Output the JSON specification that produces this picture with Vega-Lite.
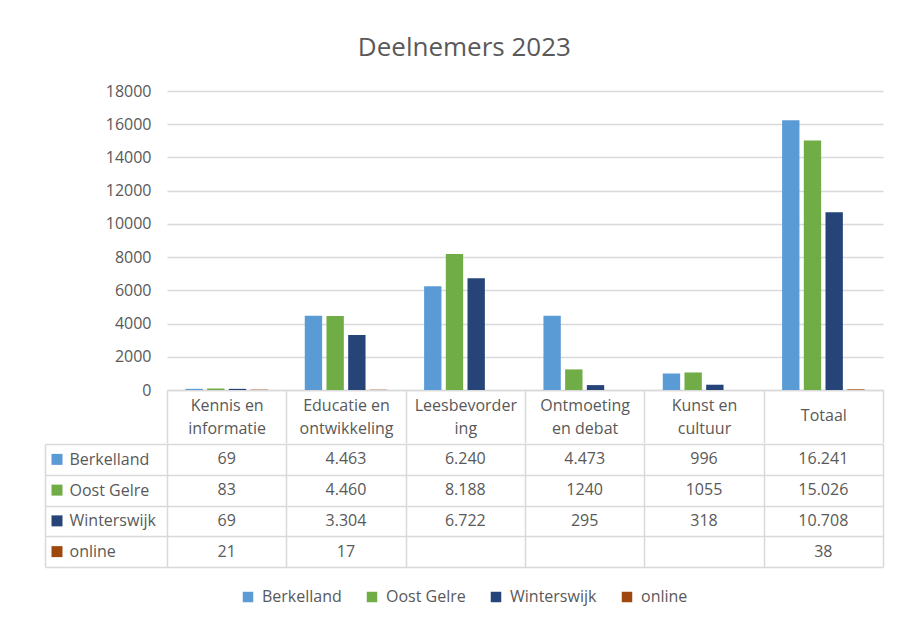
{
  "$schema": "https://vega.github.io/schema/vega-lite/v6.json",
  "background": "white",
  "padding": {"left": 45, "top": 35, "right": 10, "bottom": 10},
  "title": {"text": "Deelnemers 2023", "fontSize": 26, "font": "Open Sans", "fontWeight": "normal", "color": "#595959", "anchor": "middle", "offset": 22},
  "datasets": {
    "deelnemers": [
      {"categorie": "Kennis en informatie", "gemeente": "Berkelland", "aantal": 69, "label": "69"},
      {"categorie": "Educatie en ontwikkeling", "gemeente": "Berkelland", "aantal": 4463, "label": "4.463"},
      {"categorie": "Leesbevordering", "gemeente": "Berkelland", "aantal": 6240, "label": "6.240"},
      {"categorie": "Ontmoeting en debat", "gemeente": "Berkelland", "aantal": 4473, "label": "4.473"},
      {"categorie": "Kunst en cultuur", "gemeente": "Berkelland", "aantal": 996, "label": "996"},
      {"categorie": "Totaal", "gemeente": "Berkelland", "aantal": 16241, "label": "16.241"},
      {"categorie": "Kennis en informatie", "gemeente": "Oost Gelre", "aantal": 83, "label": "83"},
      {"categorie": "Educatie en ontwikkeling", "gemeente": "Oost Gelre", "aantal": 4460, "label": "4.460"},
      {"categorie": "Leesbevordering", "gemeente": "Oost Gelre", "aantal": 8188, "label": "8.188"},
      {"categorie": "Ontmoeting en debat", "gemeente": "Oost Gelre", "aantal": 1240, "label": "1240"},
      {"categorie": "Kunst en cultuur", "gemeente": "Oost Gelre", "aantal": 1055, "label": "1055"},
      {"categorie": "Totaal", "gemeente": "Oost Gelre", "aantal": 15026, "label": "15.026"},
      {"categorie": "Kennis en informatie", "gemeente": "Winterswijk", "aantal": 69, "label": "69"},
      {"categorie": "Educatie en ontwikkeling", "gemeente": "Winterswijk", "aantal": 3304, "label": "3.304"},
      {"categorie": "Leesbevordering", "gemeente": "Winterswijk", "aantal": 6722, "label": "6.722"},
      {"categorie": "Ontmoeting en debat", "gemeente": "Winterswijk", "aantal": 295, "label": "295"},
      {"categorie": "Kunst en cultuur", "gemeente": "Winterswijk", "aantal": 318, "label": "318"},
      {"categorie": "Totaal", "gemeente": "Winterswijk", "aantal": 10708, "label": "10.708"},
      {"categorie": "Kennis en informatie", "gemeente": "online", "aantal": 21, "label": "21"},
      {"categorie": "Educatie en ontwikkeling", "gemeente": "online", "aantal": 17, "label": "17"},
      {"categorie": "Totaal", "gemeente": "online", "aantal": 38, "label": "38"}
    ]
  },
  "spacing": -9,
  "vconcat": [
    {
      "spacing": 0,
      "bounds": "flush",
      "hconcat": [
        {
          "width": 122,
          "height": 299,
          "data": {"values": [{}]},
          "mark": {"type": "text", "text": ""}
        },
        {
          "width": 716,
          "height": 299,
          "data": {"name": "deelnemers"},
          "mark": {"type": "bar"},
          "encoding": {
            "x": {
              "field": "categorie",
              "type": "nominal",
              "sort": null,
              "scale": {"type": "band", "domain": ["Kennis en informatie", "Educatie en ontwikkeling", "Leesbevordering", "Ontmoeting en debat", "Kunst en cultuur", "Totaal"], "paddingInner": 0, "paddingOuter": 0},
              "axis": {
                "title": null,
                "orient": "bottom",
                "domain": true,
                "domainColor": "#d9d9d9",
                "domainWidth": 1.5,
                "ticks": true,
                "tickBand": "extent",
                "tickSize": 53,
                "tickColor": "#d9d9d9",
                "tickWidth": 1.5,
                "labelAngle": 0,
                "labelAlign": "center",
                "labelBaseline": "middle",
                "labelPadding": {"condition": {"test": "datum.value == 'Totaal'", "value": -28}, "value": -38},
                "labelLineHeight": 23,
                "labelOverlap": false,
                "labelExpr": "datum.value == 'Kennis en informatie' ? ['Kennis en', 'informatie'] : datum.value == 'Educatie en ontwikkeling' ? ['Educatie en', 'ontwikkeling'] : datum.value == 'Leesbevordering' ? ['Leesbevorder', 'ing'] : datum.value == 'Ontmoeting en debat' ? ['Ontmoeting', 'en debat'] : datum.value == 'Kunst en cultuur' ? ['Kunst en', 'cultuur'] : datum.label"
              }
            },
            "xOffset": {
              "field": "gemeente",
              "type": "nominal",
              "scale": {"domain": ["Berkelland", "Oost Gelre", "Winterswijk", "online"], "paddingInner": 0.2, "paddingOuter": 0.85}
            },
            "y": {
              "field": "aantal",
              "type": "quantitative",
              "scale": {"domain": [0, 18000], "nice": false},
              "axis": {
                "title": null,
                "values": [0, 2000, 4000, 6000, 8000, 10000, 12000, 14000, 16000, 18000],
                "format": "d",
                "domain": false,
                "ticks": false,
                "labelPadding": 16,
                "grid": true,
                "gridColor": "#d9d9d9",
                "gridWidth": 1.5
              }
            },
            "color": {
              "field": "gemeente",
              "type": "nominal",
              "scale": {"domain": ["Berkelland", "Oost Gelre", "Winterswijk", "online"], "range": ["#5B9BD5", "#70AD47", "#264478", "#9E480E"]},
              "legend": {"title": null, "orient": "bottom", "direction": "horizontal", "symbolType": "square"}
            }
          }
        }
      ]
    },
    {
      "spacing": 0,
      "bounds": "flush",
      "hconcat": [
        {
          "width": 24,
          "height": 123,
          "data": {"name": "deelnemers"},
          "transform": [{"filter": "datum.categorie == 'Totaal'"}],
          "mark": {"type": "point", "shape": "square", "filled": true, "size": 121, "opacity": 1},
          "encoding": {
            "y": {
              "field": "gemeente",
              "type": "nominal",
              "scale": {"type": "band", "domain": ["Berkelland", "Oost Gelre", "Winterswijk", "online"], "paddingInner": 0, "paddingOuter": 0},
              "axis": {"title": null, "labels": false, "ticks": false, "domain": true, "domainColor": "#d9d9d9", "domainWidth": 1.5, "grid": true, "tickBand": "extent", "gridColor": "#d9d9d9", "gridWidth": 1.5}
            },
            "color": {
              "field": "gemeente",
              "type": "nominal",
              "legend": null
            }
          }
        },
        {
          "width": 98,
          "height": 123,
          "data": {"name": "deelnemers"},
          "transform": [{"filter": "datum.categorie == 'Totaal'"}],
          "mark": {"type": "text", "text": ""},
          "encoding": {
            "y": {
              "field": "gemeente",
              "type": "nominal",
              "scale": {"type": "band", "domain": ["Berkelland", "Oost Gelre", "Winterswijk", "online"], "paddingInner": 0, "paddingOuter": 0},
              "axis": {"title": null, "labels": true, "labelAlign": "left", "labelBaseline": "middle", "labelPadding": 0, "ticks": false, "domain": false, "grid": true, "tickBand": "extent", "gridColor": "#d9d9d9", "gridWidth": 1.5}
            }
          }
        },
        {
          "width": 716,
          "height": 123,
          "data": {"name": "deelnemers"},
          "mark": {"type": "text", "fontSize": 16, "color": "#595959", "font": "Open Sans"},
          "encoding": {
            "x": {
              "field": "categorie",
              "type": "nominal",
              "scale": {"type": "band", "domain": ["Kennis en informatie", "Educatie en ontwikkeling", "Leesbevordering", "Ontmoeting en debat", "Kunst en cultuur", "Totaal"], "paddingInner": 0, "paddingOuter": 0},
              "axis": {"title": null, "labels": false, "ticks": false, "domain": false, "grid": true, "tickBand": "extent", "gridColor": "#d9d9d9", "gridWidth": 1.5}
            },
            "y": {
              "field": "gemeente",
              "type": "nominal",
              "scale": {"type": "band", "domain": ["Berkelland", "Oost Gelre", "Winterswijk", "online"], "paddingInner": 0, "paddingOuter": 0},
              "axis": {"title": null, "labels": false, "ticks": false, "domain": false, "grid": true, "tickBand": "extent", "gridColor": "#d9d9d9", "gridWidth": 1.5}
            },
            "text": {"field": "label"}
          }
        }
      ]
    }
  ],
  "config": {
    "view": {"stroke": null},
    "font": "Open Sans",
    "axis": {"labelFont": "Open Sans", "labelFontSize": 16, "labelColor": "#595959"},
    "legend": {
      "labelFont": "Open Sans",
      "labelFontSize": 16,
      "labelColor": "#595959",
      "symbolSize": 110,
      "symbolStrokeWidth": 0,
      "columnPadding": 22,
      "labelOffset": 6,
      "offset": 22,
      "layout": {"bottom": {"anchor": "middle"}}
    }
  }
}
